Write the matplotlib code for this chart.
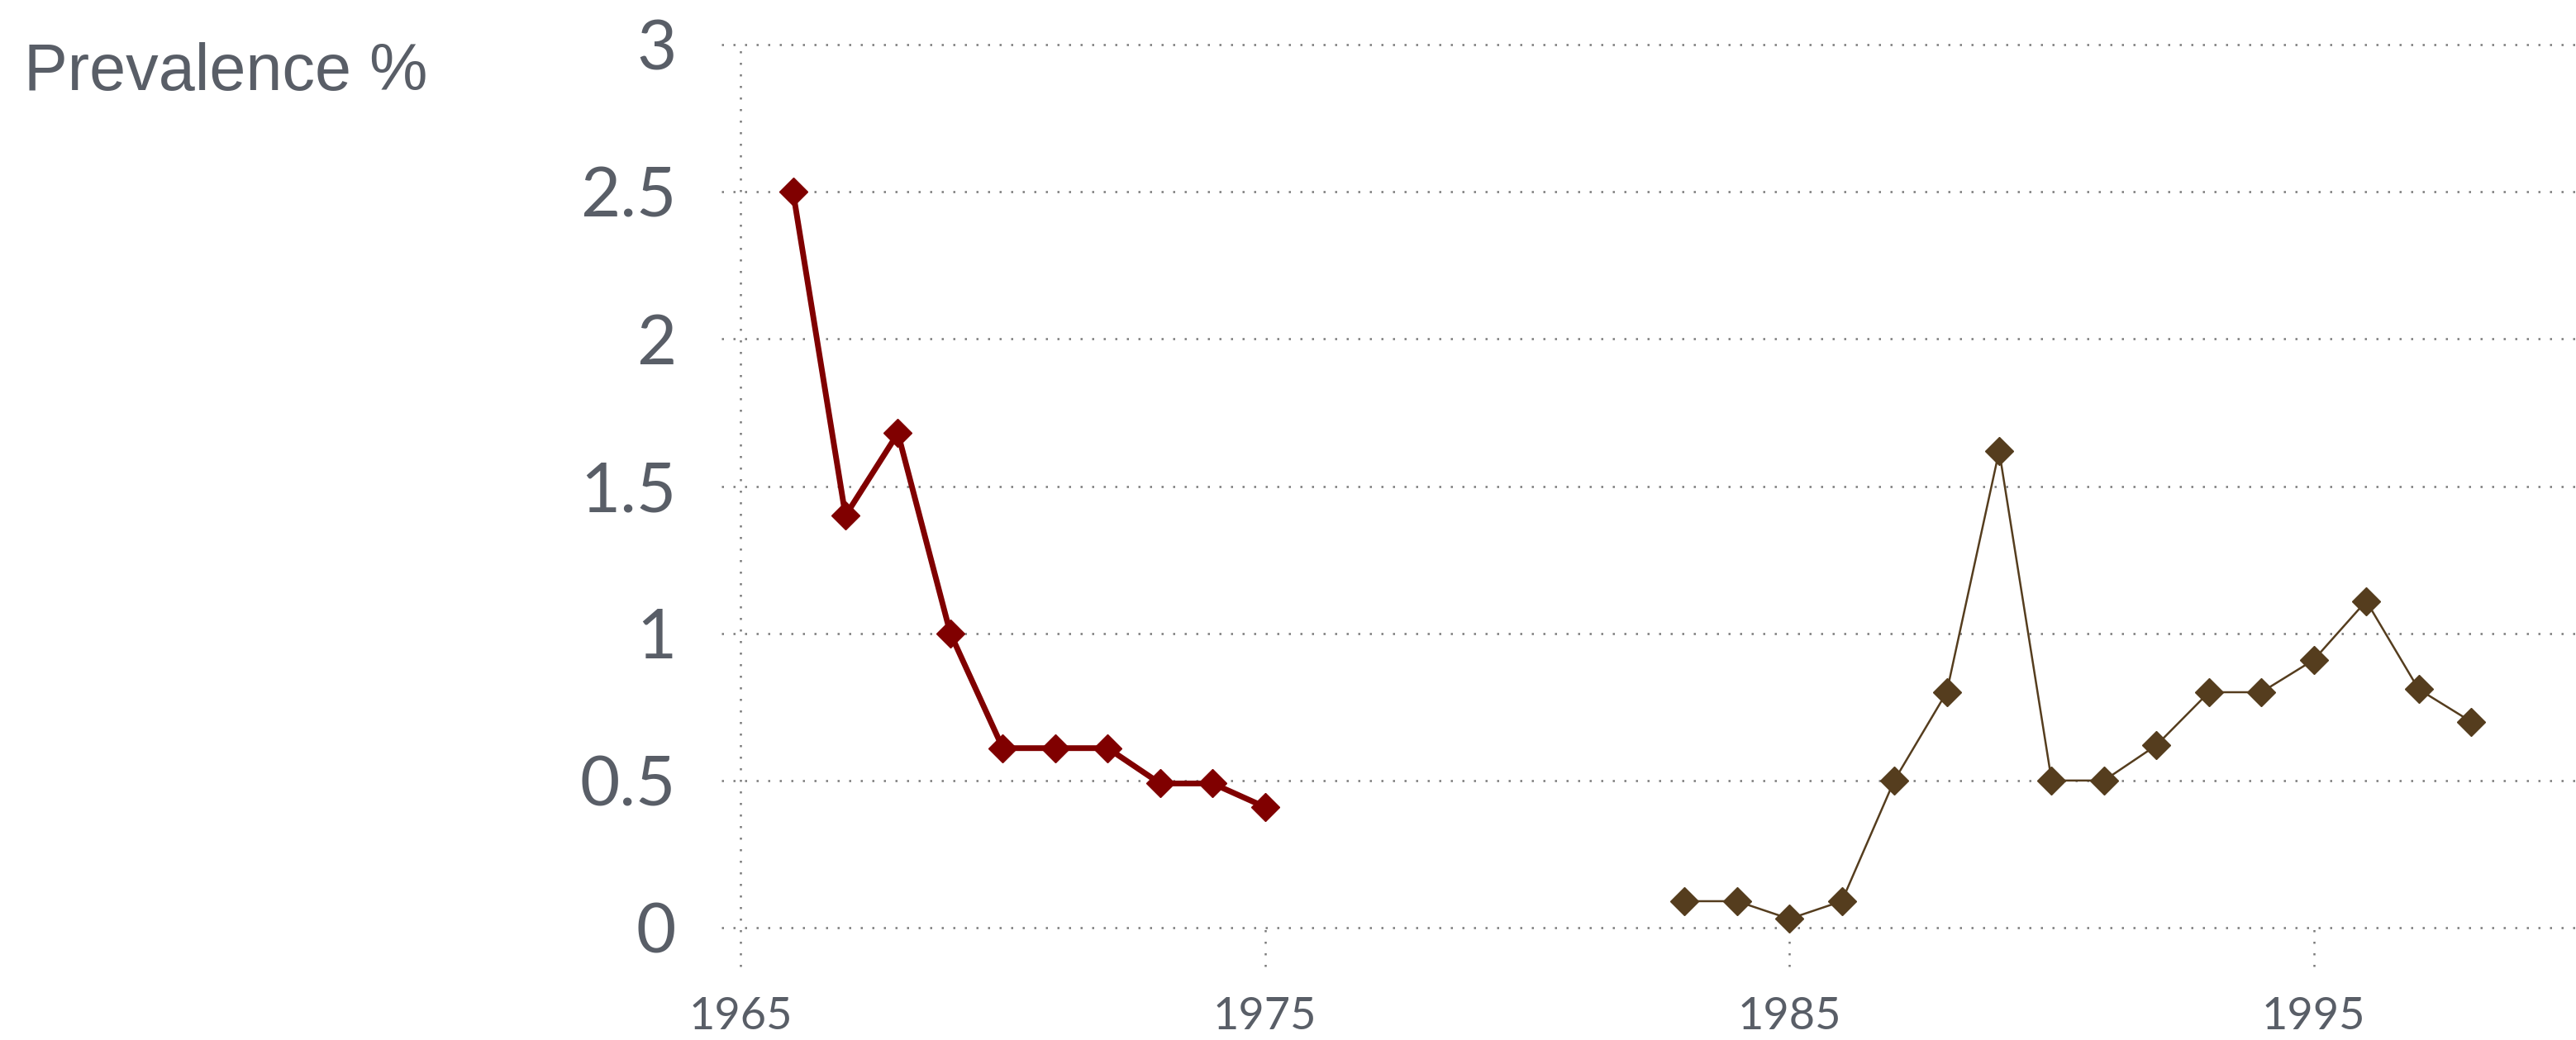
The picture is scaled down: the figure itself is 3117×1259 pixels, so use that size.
import matplotlib
matplotlib.use("Agg")
import matplotlib.pyplot as plt

# data
years_early = [1966, 1967, 1968, 1969, 1970, 1971, 1972, 1973, 1974, 1975]
prev_early = [2.5, 1.4, 1.68, 1.0, 0.61, 0.61, 0.61, 0.49, 0.49, 0.41]

years_late = [1983, 1984, 1985, 1986, 1987, 1988, 1989, 1990, 1991, 1992,
              1993, 1994, 1995, 1996, 1997, 1998]
prev_late = [0.09, 0.09, 0.03, 0.09, 0.5, 0.8, 1.62, 0.5, 0.5, 0.62,
             0.8, 0.8, 0.91, 1.11, 0.81, 0.7]

x_ticks = [1965, 1975, 1985, 1995]
y_ticks = [0, 0.5, 1, 1.5, 2, 2.5, 3]
y_tick_labels = ["0", "0.5", "1", "1.5", "2", "2.5", "3"]

TEXT = "#595e67"
GRID = "#7a7a7a"
RED = "#800000"
BROWN = "#553d1e"
DOTS = (0, (1, 4.6))

fig = plt.figure(figsize=(31.17, 12.59), dpi=100)
fig.patch.set_facecolor("white")
ax = fig.add_axes([0.2875, 0.108, 0.7125, 0.849])
ax.set_xlim(1965, 2000)
ax.set_ylim(0, 3)

for s in ax.spines.values():
    s.set_visible(False)

# dotted horizontal grid, reaching a bit left of the axis (tick stubs)
for y in y_ticks:
    ax.axhline(y, xmin=-0.0104, xmax=1, color=GRID, lw=1.8, ls=DOTS,
               clip_on=False, zorder=0)
# dotted vertical stubs below zero, left one runs full height as the axis
for x in x_ticks:
    top = 1.0 if x == x_ticks[0] else 0.0
    ax.axvline(x, ymin=-0.044, ymax=top, color=GRID, lw=1.8, ls=DOTS,
               clip_on=False, zorder=0)

ax.plot(years_early, prev_early, color=RED, lw=5, marker="D", ms=17,
        clip_on=False, zorder=3)
ax.plot(years_late, prev_late, color=BROWN, lw=1.8, marker="D", ms=17,
        clip_on=False, zorder=3)

ax.set_xticks(x_ticks)
ax.set_xticklabels([str(x) for x in x_ticks])
ax.set_yticks(y_ticks)
ax.set_yticklabels(y_tick_labels)
ax.tick_params(axis="x", length=0, pad=60, labelsize=39, labelcolor=TEXT)
ax.tick_params(axis="y", length=0, pad=56, labelsize=60, labelcolor=TEXT)
for lab in ax.get_xticklabels() + ax.get_yticklabels():
    lab.set_fontfamily("Lato")
    lab.set_fontweight("normal")

fig.text(0.0093, 0.93, "Prevalence %", fontsize=57, color=TEXT,
         family="Liberation Sans", ha="left", va="center")

fig.savefig("out.png", dpi=100, facecolor="white")
